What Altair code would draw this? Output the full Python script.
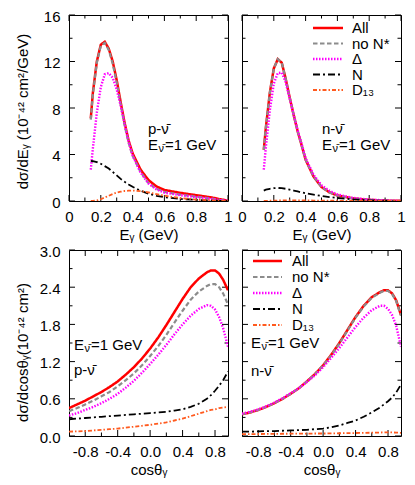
import altair as alt
import pandas as pd

FONT = "Liberation Sans"

# ---------------- series styling ----------------
SERIES = ["All", "no N*", "Δ", "N", "D13"]
LEGEND_LABELS = ["All", "no N*", "Δ", "N", "D₁₃"]
COLORS = ["#ff0000", "#8c8c8c", "#ff00ff", "#000000", "#ff5a1e"]
DASHES = [[1, 0], [4.5, 2.5], [1.5, 1.5], [7, 3, 2, 3], [4, 2, 1.5, 2]]
WIDTHS = [2.5, 2.2, 2.4, 1.8, 1.8]

# ---------------- annotation texts ----------------
PROC_P = "p-ν\u0304"
PROC_N = "n-ν\u0304"
E_MAIN = "E"
E_SUB = "ν\u0304"
E_REST = "=1 GeV"

# ---------------- top panels: dσ/dEγ ----------------
E_GRID = [0.137, 0.15, 0.175, 0.2, 0.225, 0.25, 0.275, 0.3, 0.325, 0.35, 0.375,
          0.4, 0.45, 0.5, 0.55, 0.6, 0.7, 0.8, 0.9, 0.95, 1.0]

TL_ALL = [7.1, 9.3, 12.0, 13.45, 13.7, 13.1, 12.0, 10.4, 8.5, 6.7, 5.2,
          4.1, 2.7, 1.8, 1.25, 0.95, 0.7, 0.5, 0.3, 0.15, 0.03]
TL_NONS = [7.0, 9.2, 11.9, 13.35, 13.6, 13.0, 11.8, 10.2, 8.3, 6.5, 5.0,
           3.9, 2.5, 1.55, 1.05, 0.78, 0.55, 0.38, 0.2, 0.1, 0.02]
TL_DELTA = [2.7, 4.5, 7.6, 9.8, 10.9, 11.0, 10.6, 9.6, 8.2, 6.6, 5.1,
            3.9, 2.45, 1.5, 1.0, 0.72, 0.5, 0.33, 0.17, 0.08, 0.01]
TL_N = [3.45, 3.42, 3.35, 3.2, 3.0, 2.8, 2.5, 2.2, 1.9, 1.65, 1.42,
        1.22, 0.88, 0.62, 0.45, 0.33, 0.18, 0.09, 0.03, 0.01, 0.0]
TL_D13 = [0.0, 0.01, 0.05, 0.15, 0.3, 0.45, 0.6, 0.72, 0.8, 0.86, 0.89,
          0.9, 0.85, 0.74, 0.6, 0.46, 0.25, 0.12, 0.05, 0.02, 0.0]

TR_ALL = [4.4, 6.3, 9.3, 11.4, 12.2, 11.9, 10.5, 8.9, 7.4, 6.0, 4.8,
          3.55, 2.1, 1.2, 0.75, 0.48, 0.22, 0.1, 0.04, 0.02, 0.01]
TR_NONS = [4.4, 6.3, 9.3, 11.4, 12.2, 11.9, 10.5, 8.9, 7.4, 6.0, 4.8,
           3.55, 2.1, 1.2, 0.74, 0.47, 0.21, 0.1, 0.04, 0.02, 0.01]
TR_DELTA = [2.7, 4.6, 7.8, 10.1, 11.0, 11.05, 10.2, 8.8, 7.4, 6.1, 4.9,
            3.7, 2.25, 1.35, 0.88, 0.56, 0.26, 0.12, 0.05, 0.02, 0.01]
TR_N = [0.9, 0.97, 1.05, 1.1, 1.12, 1.1, 1.05, 0.98, 0.9, 0.82, 0.74,
        0.67, 0.55, 0.44, 0.34, 0.26, 0.14, 0.06, 0.02, 0.01, 0.0]
TR_D13 = [0.0, 0.01, 0.02, 0.03, 0.04, 0.05, 0.05, 0.05, 0.05, 0.05, 0.05,
          0.045, 0.04, 0.03, 0.025, 0.02, 0.01, 0.005, 0.0, 0.0, 0.0]

# ---------------- bottom panels: dσ/dcosθγ ----------------
COS_GRID = [-1.0, -0.9, -0.8, -0.7, -0.6, -0.5, -0.4, -0.3, -0.2, -0.1, 0.0,
            0.1, 0.2, 0.3, 0.4, 0.5, 0.6, 0.7, 0.75, 0.8, 0.85, 0.9, 0.96]

BL_ALL = [0.45, 0.51, 0.57, 0.64, 0.71, 0.79, 0.88, 0.99, 1.11, 1.25, 1.41,
          1.59, 1.79, 2.0, 2.21, 2.40, 2.54, 2.64, 2.67, 2.67, 2.62, 2.52, 2.35]
BL_NONS = [0.40, 0.45, 0.51, 0.57, 0.64, 0.71, 0.80, 0.90, 1.01, 1.14, 1.29,
           1.45, 1.63, 1.83, 2.02, 2.20, 2.33, 2.42, 2.45, 2.45, 2.40, 2.30, 2.12]
BL_DELTA = [0.33, 0.37, 0.42, 0.47, 0.53, 0.60, 0.68, 0.78, 0.89, 1.02, 1.16,
            1.31, 1.47, 1.64, 1.80, 1.94, 2.05, 2.11, 2.10, 2.04, 1.92, 1.74, 1.44]
BL_N = [0.27, 0.28, 0.29, 0.30, 0.31, 0.32, 0.33, 0.34, 0.35, 0.36, 0.37,
        0.38, 0.39, 0.41, 0.43, 0.47, 0.52, 0.60, 0.66, 0.73, 0.81, 0.90, 1.04]
BL_D13 = [0.07, 0.075, 0.08, 0.09, 0.10, 0.11, 0.12, 0.135, 0.15, 0.165, 0.18,
          0.20, 0.22, 0.25, 0.28, 0.32, 0.36, 0.40, 0.42, 0.43, 0.45, 0.46, 0.47]

BR_ALL = [0.35, 0.38, 0.42, 0.47, 0.53, 0.60, 0.68, 0.77, 0.88, 1.0, 1.14,
          1.31, 1.50, 1.71, 1.92, 2.10, 2.24, 2.32, 2.35, 2.35, 2.30, 2.19, 1.95]
BR_NONS = [0.35, 0.38, 0.42, 0.47, 0.53, 0.60, 0.68, 0.77, 0.88, 1.0, 1.14,
           1.30, 1.49, 1.70, 1.91, 2.09, 2.23, 2.31, 2.34, 2.34, 2.29, 2.18, 1.94]
BR_DELTA = [0.36, 0.39, 0.43, 0.48, 0.54, 0.61, 0.69, 0.77, 0.87, 0.98, 1.11,
            1.26, 1.42, 1.59, 1.76, 1.91, 2.03, 2.10, 2.10, 2.05, 1.95, 1.78, 1.44]
BR_N = [0.07, 0.07, 0.075, 0.078, 0.08, 0.085, 0.09, 0.095, 0.10, 0.11, 0.12,
        0.14, 0.17, 0.21, 0.25, 0.31, 0.38, 0.46, 0.51, 0.56, 0.62, 0.70, 0.83]
BR_D13 = [0.03, 0.03, 0.032, 0.033, 0.035, 0.036, 0.037, 0.038, 0.039, 0.04, 0.04,
          0.042, 0.044, 0.046, 0.048, 0.05, 0.053, 0.056, 0.058, 0.06, 0.058, 0.055, 0.05]

# ---------------- axis ticks ----------------
E_MAJ = [0, 0.2, 0.4, 0.6, 0.8, 1.0]
E_MIN = [0.1, 0.3, 0.5, 0.7, 0.9]
DE_MAJ = [0, 4, 8, 12, 16]
DE_MIN = [2, 6, 10, 14]
COS_MAJ = [-0.8, -0.4, 0.0, 0.4, 0.8]
COS_MIN = [-0.6, -0.2, 0.2, 0.6]
DC_MAJ = [0.0, 0.6, 1.2, 1.8, 2.4, 3.0]
DC_MIN = [0.3, 0.9, 1.5, 2.1, 2.7]

TITLE_E = "Eᵧ (GeV)"
TITLE_COS = "cosθᵧ"
TITLE_DE = "dσ/dEᵧ (10⁻⁴² cm²/GeV)"
TITLE_DC = "dσ/dcosθᵧ(10⁻⁴² cm²)"

W_TOP, H_TOP = 159, 186
W_BOT, H_BOT = 159, 186


def long_df(grid, cols):
    rows = []
    for s, vals in zip(SERIES, cols):
        for x, v in zip(grid, vals):
            rows.append({"x": x, "y": v, "s": s})
    return pd.DataFrame(rows)


def axis_common():
    return dict(ticks=False, domain=False, grid=False, labelFlush=False,
                labelOverlap=False, labelFont=FONT, labelFontSize=15,
                labelColor="black", titleFont=FONT, titleFontSize=15,
                titleFontWeight="normal", titleColor="black")


def text_layer(txt, x, y, size=15):
    d = pd.DataFrame({"t": [txt]})
    return alt.Chart(d).mark_text(align="left", baseline="middle", font=FONT,
                                  fontSize=size, color="black").encode(
        x=alt.value(x), y=alt.value(y), text="t:N")


def panel(df, W, H, xdom, ydom, xmaj, xmin, ymaj, ymin, xexpr, yexpr,
          xtitle, ytitle, ytitle_y, legend, proc, note_x, proc_y, e_y):
    xs = alt.Scale(domain=xdom, nice=False, zero=False)
    ys = alt.Scale(domain=ydom, nice=False, zero=False)
    xaxis = alt.Axis(values=xmaj, labelExpr=xexpr, labelPadding=8,
                     title=xtitle, titlePadding=3, **axis_common())
    if ytitle is not None:
        yaxis = alt.Axis(values=ymaj, labelExpr=yexpr, labelPadding=9,
                         labelOffset=1, title=ytitle, titleX=-47,
                         titleY=ytitle_y, titleAngle=270,
                         titleBaseline="middle", titleAlign="center",
                         **axis_common())
    else:
        yaxis = None
    X = alt.X("x:Q", scale=xs, axis=xaxis)
    Y = alt.Y("y:Q", scale=ys, axis=yaxis)

    layers = []
    # inward ticks on all four sides
    for vals, L in ((xmaj, 6), (xmin, 3.5)):
        d = pd.DataFrame({"x": vals})
        layers.append(alt.Chart(d).mark_rule(color="black", strokeWidth=1).encode(
            x=X, y=alt.value(H), y2=alt.value(H - L)))
        layers.append(alt.Chart(d).mark_rule(color="black", strokeWidth=1).encode(
            x=X, y=alt.value(0), y2=alt.value(L)))
    for vals, L in ((ymaj, 6), (ymin, 3.5)):
        d = pd.DataFrame({"y": vals})
        layers.append(alt.Chart(d).mark_rule(color="black", strokeWidth=1).encode(
            y=Y, x=alt.value(0), x2=alt.value(L)))
        layers.append(alt.Chart(d).mark_rule(color="black", strokeWidth=1).encode(
            y=Y, x=alt.value(W), x2=alt.value(W - L)))

    # curves
    for s, c, dsh, w in zip(SERIES, COLORS, DASHES, WIDTHS):
        layers.append(alt.Chart(df).transform_filter(alt.datum.s == s).mark_line(
            color=c, strokeDash=dsh, strokeWidth=w, clip=True).encode(x=X, y=Y))

    # legend
    if legend is not None:
        lx0, lx1, tx, ty0, dy = legend
        for i, (lab, c, dsh, w) in enumerate(zip(LEGEND_LABELS, COLORS, DASHES, WIDTHS)):
            d = pd.DataFrame({"t": [lab]})
            layers.append(alt.Chart(d).mark_rule(color=c, strokeDash=dsh, strokeWidth=w).encode(
                x=alt.value(lx0), x2=alt.value(lx1), y=alt.value(ty0 + i * dy)))
            layers.append(text_layer(lab, tx, ty0 + i * dy))

    # annotations
    layers.append(text_layer(proc, note_x, proc_y))
    layers.append(text_layer(E_MAIN, note_x, e_y))
    layers.append(text_layer(E_SUB, note_x + 10.5, e_y + 4, 11))
    layers.append(text_layer(E_REST, note_x + 17, e_y))

    return alt.layer(*layers).properties(width=W, height=H)


XEXPR_E = "format(datum.value, '~g')"
YEXPR_DE = "format(datum.value, 'd')"
XEXPR_COS = "replace(format(datum.value, '.1f'), '\u2212', '-')"
YEXPR_DC = "format(datum.value, '.1f')"

tl = panel(long_df(E_GRID, [TL_ALL, TL_NONS, TL_DELTA, TL_N, TL_D13]),
           W_TOP, H_TOP, [0, 1], [0, 16], E_MAJ, E_MIN, DE_MAJ, DE_MIN,
           XEXPR_E, YEXPR_DE, TITLE_E, TITLE_DE, H_TOP / 2 + 3, None,
           PROC_P, 79, 114, 130)
tr = panel(long_df(E_GRID, [TR_ALL, TR_NONS, TR_DELTA, TR_N, TR_D13]),
           W_TOP, H_TOP, [0, 1], [0, 16], E_MAJ, E_MIN, DE_MAJ, DE_MIN,
           XEXPR_E, YEXPR_DE, TITLE_E, None, 0, (71, 101, 110, 13, 15.5),
           PROC_N, 80, 114, 130)
bl = panel(long_df(COS_GRID, [BL_ALL, BL_NONS, BL_DELTA, BL_N, BL_D13]),
           W_BOT, H_BOT, [-1, 0.96], [0, 3], COS_MAJ, COS_MIN, DC_MAJ, DC_MIN,
           XEXPR_COS, YEXPR_DC, TITLE_COS, TITLE_DC, H_BOT / 2 + 9, None,
           PROC_P, 5, 120, 95)
br = panel(long_df(COS_GRID, [BR_ALL, BR_NONS, BR_DELTA, BR_N, BR_D13]),
           W_BOT, H_BOT, [-1, 0.96], [0, 3], COS_MAJ, COS_MIN, DC_MAJ, DC_MIN,
           XEXPR_COS, YEXPR_DC, TITLE_COS, None, 0, (11, 40, 50, 11, 16),
           PROC_N, 9, 121, 93)

chart = alt.concat(tl, tr, bl, br, columns=2,
                   spacing={"row": 49, "column": 14}, bounds="flush").properties(
    padding={"left": 6, "top": 0, "right": 0, "bottom": 0}
).configure_view(stroke="black", strokeWidth=1)

chart.save("out.html", embed_options={"renderer": "svg", "actions": False})
